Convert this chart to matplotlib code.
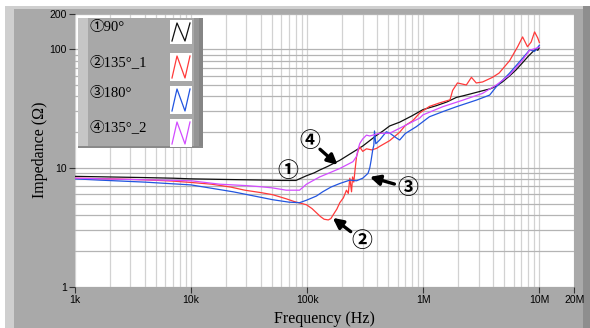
import matplotlib
matplotlib.use("Agg")
import matplotlib.pyplot as plt
from matplotlib.patches import Rectangle
from matplotlib.lines import Line2D
from matplotlib.ticker import FixedLocator, NullFormatter, LogLocator

# ---------------- data ----------------
series_names = ["①90°", "②135°_1", "③180°", "④135°_2"]
series_colors = ["#101010", "#ff3a3a", "#2255e0", "#d24cff"]

f_90 = [1e3, 2e3, 4e3, 7e3, 10e3, 20e3, 30e3, 45e3, 60e3, 80e3, 98.6e3, 115e3,
        128e3, 150e3, 191e3, 248e3, 301e3, 346e3, 395e3, 450e3, 514e3, 626e3,
        800e3, 994e3, 1.3e6, 1.6e6, 1.93e6, 2.2e6, 2.54e6, 3.24e6, 3.8e6, 4.26e6,
        4.8e6, 5.54e6, 6.3e6, 7.17e6, 8.0e6, 8.85e6, 9.3e6, 9.7e6, 10e6]
z_90 = [8.5, 8.4, 8.3, 8.2, 8.1, 8.0, 7.95, 7.9, 7.85, 7.85, 8.6, 9.1,
        9.6, 10.3, 11.6, 13.6, 15.3, 17.0, 18.8, 20.5, 22.6, 24.3,
        27.5, 31.0, 33.5, 36.0, 39.3, 40.5, 42.0, 44.7, 46.5, 49.0,
        53.0, 59.6, 67.0, 77.0, 87.0, 96.0, 100.0, 98.0, 103.0]

f_135a = [1e3, 2e3, 4e3, 7e3, 10e3, 15e3, 22e3, 29e3, 40e3, 50.6e3, 66e3, 78e3,
          98.6e3, 110e3, 120e3, 130e3, 140e3, 152e3, 160e3, 168e3, 180e3, 191e3,
          205e3, 218e3, 226e3, 233e3, 237e3, 241e3, 246e3, 252e3, 258e3, 266e3,
          275e3, 284e3, 301e3, 324e3, 360e3, 395e3, 421e3, 514e3, 626e3, 700e3,
          811e3, 931e3, 1.13e6, 1.38e6, 1.7e6, 1.79e6, 1.97e6, 2.35e6, 2.6e6,
          2.86e6, 3.24e6, 3.95e6, 4.5e6, 5.54e6, 6.5e6, 7.17e6, 7.9e6, 8.5e6,
          9.1e6, 9.7e6, 10e6]
z_135a = [8.2, 8.1, 7.95, 7.75, 7.55, 7.3, 6.9, 6.5, 6.2, 5.95, 5.5, 5.2,
          4.9, 4.55, 4.2, 3.9, 3.7, 3.65, 3.75, 4.05, 4.5, 5.1,
          5.6, 6.5, 6.1, 8.2, 7.2, 6.3, 8.4, 7.6, 9.5, 12.4,
          14.0, 15.0, 13.8, 14.5, 14.2, 14.6, 15.2, 17.0, 20.0, 22.8,
          25.0, 29.0, 33.0, 35.3, 37.5, 45.0, 52.0, 50.0, 58.0,
          52.0, 53.0, 58.0, 63.0, 80.0, 105.0, 127.0, 105.0, 115.0,
          140.0, 124.0, 114.0]

f_180 = [1e3, 1.64e3, 4e3, 10e3, 23e3, 50.6e3, 70e3, 86e3, 98.6e3, 120e3, 136e3,
         160e3, 191e3, 233e3, 266e3, 301e3, 334e3, 346e3, 355e3, 367e3, 375e3,
         380e3, 390e3, 421e3, 481e3, 520e3, 587e3, 626e3, 700e3, 873e3, 1.13e6,
         1.47e6, 1.93e6, 2.87e6, 3.73e6, 4.26e6, 5.54e6, 7.17e6, 8.24e6, 9.1e6,
         9.7e6, 10e6]
z_180 = [8.1, 7.9, 7.6, 7.2, 6.3, 5.4, 5.15, 5.1, 5.35, 5.8, 6.3,
         6.9, 7.4, 7.9, 7.8, 8.2, 9.0, 10.0, 11.5, 14.2, 15.5,
         20.5, 16.0, 17.2, 20.2, 19.5, 17.9, 17.2, 19.5, 22.3, 27.0,
         29.8, 32.8, 37.3, 41.1, 48.4, 62.9, 84.0, 98.6, 96.0,
         104.0, 108.0]

f_135b = [1e3, 3e3, 10e3, 17.7e3, 30e3, 39e3, 50e3, 66e3, 86e3, 98.6e3, 128e3,
          160e3, 191e3, 248e3, 266e3, 275e3, 284e3, 300e3, 324e3, 346e3, 421e3,
          514e3, 626e3, 931e3, 994e3, 1.47e6, 2.2e6, 3.24e6, 4.26e6, 5.54e6,
          7.17e6, 8.24e6, 9.7e6, 10e6]
z_135b = [8.2, 8.0, 7.8, 7.3, 7.1, 6.96, 6.8, 6.5, 6.5, 7.3, 8.4,
          9.2, 9.9, 11.3, 12.5, 14.5, 16.1, 17.5, 18.9, 18.6, 19.6,
          19.6, 21.6, 26.3, 28.0, 32.8, 37.3, 42.5, 50.0, 60.6,
          81.0, 98.0, 103.0, 104.0]

x_ticks = [1e3, 1e4, 1e5, 1e6, 1e7, 2e7]
x_ticklabels = ["1k", "10k", "100k", "1M", "10M", "20M"]
y_ticks = [1, 10, 100, 200]
y_ticklabels = ["1", "10", "100", "200"]

# annotation positions (freq, impedance): label, arrow head
ann_labels = ["①", "②", "③", "④"]
ann_text_pos = [(68e3, 9.6), (295e3, 2.47), (735e3, 6.8), (105e3, 17.2)]
ann_head_pos = [None, (166e3, 3.8), (346e3, 8.4), (183e3, 10.6)]

# ---------------- figure ----------------
W, H = 590, 328
fig = plt.figure(figsize=(W / 100, H / 100), dpi=100)
fig.patch.set_facecolor("white")


def fr(x, y, w, h):
    return (x / W, 1 - (y + h) / H), w / W, h / H


def add_rect(x, y, w, h, color, z):
    xy, ww, hh = fr(x, y, w, h)
    fig.add_artist(Rectangle(xy, ww, hh, transform=fig.transFigure,
                             facecolor=color, edgecolor="none", zorder=z))


# panel background
add_rect(5, 6, 585, 322, "#a9a9a9", -10)
add_rect(5, 6, 585, 3, "#cfcfcf", -9)
add_rect(5, 6, 9, 322, "#cfcfcf", -9)
add_rect(583, 6, 7, 322, "#8e8e8e", -9)

ax = fig.add_axes([75 / W, 1 - 286.7 / H, 499.3 / W, 273.2 / H])
ax.set_facecolor("white")
ax.set_xscale("log")
ax.set_yscale("log")
ax.set_xlim(1e3, 2e7)
ax.set_ylim(1, 200)

ax.xaxis.set_minor_locator(LogLocator(base=10, subs=range(2, 10)))
ax.yaxis.set_minor_locator(LogLocator(base=10, subs=range(2, 10)))
ax.xaxis.set_minor_formatter(NullFormatter())
ax.yaxis.set_minor_formatter(NullFormatter())
ax.xaxis.set_major_locator(FixedLocator(x_ticks))
ax.yaxis.set_major_locator(FixedLocator(y_ticks))
ax.set_xticklabels(x_ticklabels, fontsize=7.5, family="Liberation Sans")
ax.set_yticklabels(y_ticklabels, fontsize=7.5, family="Liberation Sans")
ax.tick_params(which="major", length=4, width=0.8, color="#333333", pad=2)
ax.tick_params(which="minor", length=0)

ax.xaxis.grid(True, which="both", color="#d2d2d2", lw=0.9)
ax.yaxis.grid(True, which="both", color="#b4b4b4", lw=0.9)
ax.set_axisbelow(True)
for s in ax.spines.values():
    s.set_visible(False)

ax.set_xlabel("Frequency (Hz)", fontsize=11.5, family="Liberation Serif", labelpad=4)
ax.set_ylabel("Impedance (Ω)", fontsize=11.5, family="Liberation Serif", labelpad=1)

freqs = [f_90, f_135a, f_180, f_135b]
zs = [z_90, z_135a, z_180, z_135b]
for fv, zv, c in zip(freqs, zs, series_colors):
    ax.plot(fv, zv, color=c, lw=0.9)

for lab, tp, hp in zip(ann_labels, ann_text_pos, ann_head_pos):
    ax.text(tp[0], tp[1], lab, fontsize=15, ha="center", va="center",
            family=["Noto Sans CJK JP", "DejaVu Sans"], fontweight="bold",
            color="black", zorder=6)
    if hp is not None:
        ax.annotate("", xy=hp, xytext=tp,
                    arrowprops=dict(arrowstyle="-|>", lw=2.4, color="black",
                                    mutation_scale=15, shrinkA=10, shrinkB=0))

# ---------------- legend (drawn like the instrument panel) ----------------
add_rect(78, 18, 125, 130, "#a8a8a8", 5)
add_rect(78, 18, 10, 130, "#c6c6c6", 5.1)
add_rect(194, 18, 9, 130, "#959595", 5.1)
add_rect(199, 18, 4, 130, "#858585", 5.2)
add_rect(78, 146, 125, 2, "#8a8a8a", 5.2)

rows_y = [20, 53, 86, 119]
rows_h = [24, 28, 28, 28]
text_y = [28, 62, 94, 127]
for name, c, ry, rh, ty in zip(series_names, series_colors, rows_y, rows_h, text_y):
    add_rect(170, ry, 22, rh, "white", 5.3)
    xs = [172, 177, 185, 190]
    ys = [ry + rh - 3, ry + 3, ry + rh - 3, ry + 3]
    fig.add_artist(Line2D([x / W for x in xs], [1 - y / H for y in ys],
                          transform=fig.transFigure, color=c, lw=0.9, zorder=5.4))
    fig.text(90 / W, 1 - ty / H, name, fontsize=10.5, va="center", ha="left",
             family=["Liberation Serif", "Noto Sans CJK JP", "DejaVu Sans"],
             color="black", zorder=5.5)

fig.savefig("out.png", dpi=100)
